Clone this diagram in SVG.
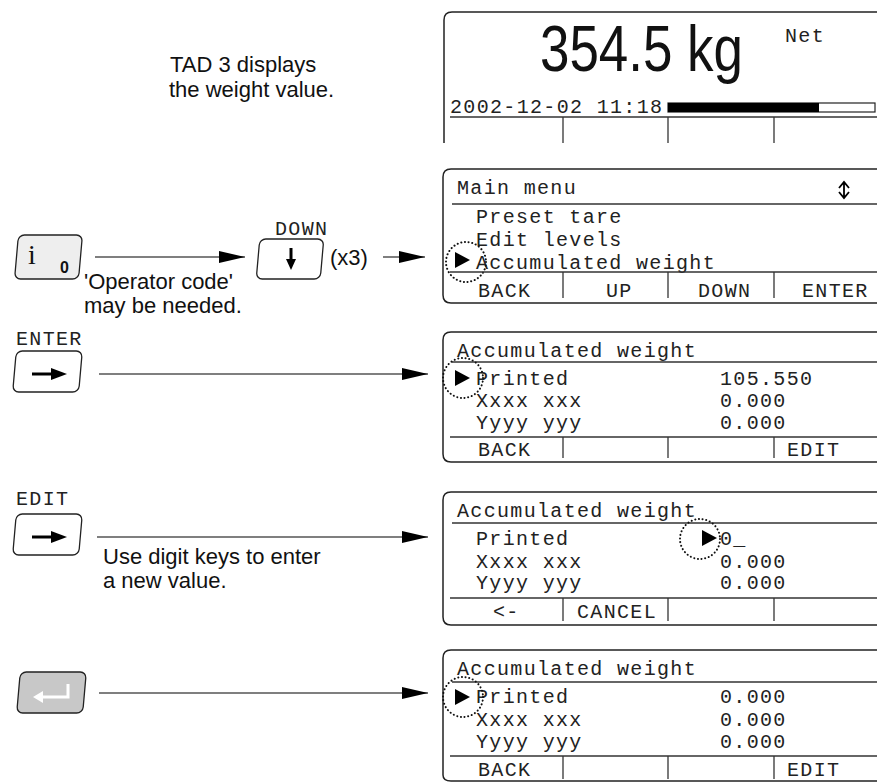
<svg xmlns="http://www.w3.org/2000/svg" width="877" height="782" viewBox="0 0 877 782">
<style>
.mono{font-family:"Liberation Mono","Courier New",monospace;font-size:20px;letter-spacing:1.33px;fill:#222}
.sans{font-family:"Liberation Sans",Arial,sans-serif;font-size:22px;fill:#111}
.frame{fill:none;stroke:#222;stroke-width:1.5}
.sep{stroke:#333;stroke-width:1.3}
.conn{stroke:#555;stroke-width:1.6;fill:none}
.dot{fill:none;stroke:#111;stroke-width:2;stroke-dasharray:0.1 3.6;stroke-linecap:round}
.key{stroke:#222;stroke-width:1.3}
</style>
<defs>
<marker id="ah" markerUnits="userSpaceOnUse" markerWidth="26" markerHeight="12" refX="26" refY="6" orient="auto">
<path d="M0,0 L26,6 L0,12 z" fill="#000"/>
</marker>
</defs>
<rect width="877" height="782" fill="#fff"/>

<g id="intro">
<text class="sans" x="170" y="72" font-size="26">TAD 3 displays</text>
<text class="sans" x="169" y="97" font-size="26">the weight value.</text>
</g>

<g id="display-weight">
<path class="frame" d="M444,143 V20 Q444,12 452,12 H880"/>
<text x="540" y="71" font-family="Liberation Sans,Arial,sans-serif" font-size="64" textLength="203" lengthAdjust="spacingAndGlyphs" fill="#111">354.5 kg</text>
<text class="mono" x="785" y="42" font-size="26" letter-spacing="1.6">Net</text>
<text class="mono" x="450" y="113">2002-12-02 11:18</text>
<line class="sep" x1="450" y1="117" x2="880" y2="117"/>
<rect x="668" y="103" width="207" height="9" fill="#fff" stroke="#222" stroke-width="1.2"/>
<rect x="668" y="103" width="151" height="9" fill="#000"/>
<line class="sep" x1="563" y1="117" x2="563" y2="143"/>
<line class="sep" x1="668" y1="117" x2="668" y2="143"/>
<line class="sep" x1="774" y1="117" x2="774" y2="143"/>
</g>

<g id="key-info">
<g transform="translate(48.5,257) skewX(-5)"><rect class="key" x="-32" y="-22" width="64" height="44" rx="6" fill="#eeeeee"/></g>
<text x="28" y="264" font-family="Liberation Serif,Times New Roman,serif" font-size="28" fill="#111">i</text>
<text x="60" y="273" font-family="Liberation Sans,Arial,sans-serif" font-size="16" font-weight="bold" fill="#111">0</text>
<text class="sans" x="84" y="289" font-size="21.5">'Operator code'</text>
<text class="sans" x="84" y="313" font-size="21.5">may be needed.</text>
</g>

<g id="key-down">
<text class="mono" x="275" y="235">DOWN</text>
<g transform="translate(290,259) skewX(-5)"><rect class="key" x="-32" y="-20" width="64" height="40" rx="6" fill="#fff"/></g>
<line x1="291" y1="248" x2="291" y2="262" stroke="#000" stroke-width="3"/>
<polygon points="286,259 296,259 291,270" fill="#000"/>
<text class="sans" x="330" y="265">(x3)</text>
</g>

<g id="display-main-menu">
<path class="frame" d="M880,169 H451 Q443,169 443,177 V295 Q443,303 451,303 H880"/>
<text class="mono" x="457" y="194">Main menu</text>
<path d="M844,182 V198 M839,188 L844,182 L849,188 M839,192 L844,198 L849,192" fill="none" stroke="#000" stroke-width="1.8"/>
<line class="sep" x1="452" y1="204" x2="880" y2="204"/>
<text class="mono" x="476" y="223">Preset tare</text>
<text class="mono" x="476" y="246">Edit levels</text>
<text class="mono" x="476" y="269">Accumulated weight</text>
<polygon points="455,252 470,260 455,268" fill="#000"/>
<circle class="dot" cx="466" cy="262" r="20"/>
<line class="sep" x1="450" y1="272" x2="880" y2="272"/>
<line class="sep" x1="563" y1="272" x2="563" y2="298"/>
<line class="sep" x1="668" y1="272" x2="668" y2="298"/>
<line class="sep" x1="774" y1="272" x2="774" y2="298"/>
<text class="mono" x="478" y="297">BACK</text>
<text class="mono" x="606" y="297">UP</text>
<text class="mono" x="698" y="297">DOWN</text>
<text class="mono" x="802" y="297">ENTER</text>
</g>

<g id="key-enter">
<text class="mono" x="16" y="345">ENTER</text>
<g transform="translate(47.5,371.5) skewX(-5)"><rect class="key" x="-33" y="-20.5" width="66" height="41" rx="6" fill="#fff"/></g>
<line x1="32" y1="374" x2="54" y2="374" stroke="#000" stroke-width="3"/>
<polygon points="51,368 67,374 51,380" fill="#000"/>
</g>

<g id="display-accum-1">
<path class="frame" d="M880,332 H451 Q443,332 443,340 V454 Q443,462 451,462 H880"/>
<text class="mono" x="457" y="357">Accumulated weight</text>
<line class="sep" x1="452" y1="362" x2="880" y2="362"/>
<text class="mono" x="476" y="385">Printed</text>
<text class="mono" x="720" y="385">105.550</text>
<text class="mono" x="476" y="407">Xxxx xxx</text>
<text class="mono" x="720" y="407">0.000</text>
<text class="mono" x="476" y="429">Yyyy yyy</text>
<text class="mono" x="720" y="429">0.000</text>
<polygon points="455,370 470,378 455,386" fill="#000"/>
<circle class="dot" cx="463" cy="378" r="20"/>
<line class="sep" x1="450" y1="437" x2="880" y2="437"/>
<line class="sep" x1="563" y1="437" x2="563" y2="458"/>
<line class="sep" x1="668" y1="437" x2="668" y2="458"/>
<line class="sep" x1="774" y1="437" x2="774" y2="458"/>
<text class="mono" x="478" y="456">BACK</text>
<text class="mono" x="787" y="456">EDIT</text>
</g>

<g id="key-edit">
<text class="mono" x="16" y="505">EDIT</text>
<g transform="translate(47.5,534.5) skewX(-5)"><rect class="key" x="-33" y="-20.5" width="66" height="41" rx="6" fill="#fff"/></g>
<line x1="32" y1="537" x2="54" y2="537" stroke="#000" stroke-width="3"/>
<polygon points="51,531 67,537 51,543" fill="#000"/>
<text class="sans" x="103" y="564" font-size="21.5">Use digit keys to enter</text>
<text class="sans" x="103" y="588" font-size="21.5">a new value.</text>
</g>

<g id="display-accum-2">
<path class="frame" d="M880,492 H451 Q443,492 443,500 V617 Q443,625 451,625 H880"/>
<text class="mono" x="457" y="517">Accumulated weight</text>
<line class="sep" x1="452" y1="523" x2="880" y2="523"/>
<text class="mono" x="476" y="545">Printed</text>
<text class="mono" x="720" y="545">0_</text>
<polygon points="702,530 717,538 702,546" fill="#000"/>
<circle class="dot" cx="700" cy="539" r="20"/>
<text class="mono" x="476" y="568">Xxxx xxx</text>
<text class="mono" x="720" y="568">0.000</text>
<text class="mono" x="476" y="589">Yyyy yyy</text>
<text class="mono" x="720" y="589">0.000</text>
<line class="sep" x1="450" y1="598" x2="880" y2="598"/>
<line class="sep" x1="563" y1="598" x2="563" y2="621"/>
<line class="sep" x1="668" y1="598" x2="668" y2="621"/>
<line class="sep" x1="774" y1="598" x2="774" y2="621"/>
<text class="mono" x="493" y="618">&lt;-</text>
<text class="mono" x="577" y="618">CANCEL</text>
</g>

<g id="key-return">
<g transform="translate(51.5,692.5) skewX(-5)"><rect class="key" x="-33" y="-20.5" width="66" height="41" rx="6" fill="#c8c8c8"/></g>
<path d="M68,684 V697 H41" fill="none" stroke="#fff" stroke-width="3"/>
<polygon points="33,697 43,691 43,703" fill="#fff"/>
</g>

<g id="display-accum-3">
<path class="frame" d="M880,650 H451 Q443,650 443,658 V775 Q443,781 451,781 H880"/>
<text class="mono" x="457" y="675">Accumulated weight</text>
<line class="sep" x1="452" y1="682" x2="880" y2="682"/>
<text class="mono" x="476" y="703">Printed</text>
<text class="mono" x="720" y="703">0.000</text>
<text class="mono" x="476" y="726">Xxxx xxx</text>
<text class="mono" x="720" y="726">0.000</text>
<text class="mono" x="476" y="748">Yyyy yyy</text>
<text class="mono" x="720" y="748">0.000</text>
<polygon points="455,689 470,697 455,705" fill="#000"/>
<circle class="dot" cx="463" cy="697" r="20"/>
<line class="sep" x1="450" y1="756" x2="880" y2="756"/>
<line class="sep" x1="563" y1="756" x2="563" y2="779"/>
<line class="sep" x1="668" y1="756" x2="668" y2="779"/>
<line class="sep" x1="774" y1="756" x2="774" y2="779"/>
<text class="mono" x="478" y="776">BACK</text>
<text class="mono" x="787" y="776">EDIT</text>
</g>

<g id="connectors">
<line class="conn" x1="95" y1="257" x2="245" y2="257" marker-end="url(#ah)"/>
<line class="conn" x1="383" y1="257" x2="425" y2="257" marker-end="url(#ah)"/>
<line class="conn" x1="99" y1="374" x2="428" y2="374" marker-end="url(#ah)"/>
<line class="conn" x1="97" y1="537" x2="428" y2="537" marker-end="url(#ah)"/>
<line class="conn" x1="99" y1="693" x2="428" y2="693" marker-end="url(#ah)"/>
</g>
</svg>
